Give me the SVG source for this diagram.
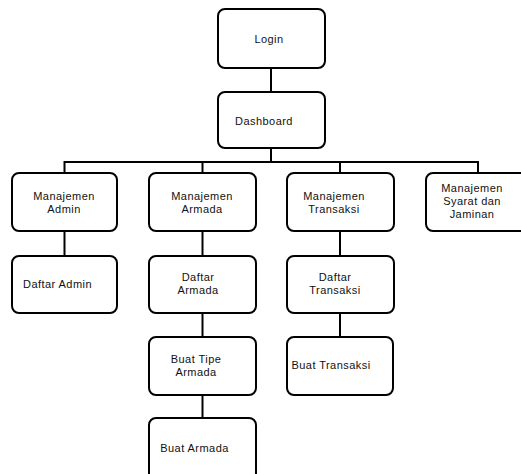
<svg xmlns="http://www.w3.org/2000/svg" width="521" height="474" viewBox="0 0 521 474">
<style>
.box{fill:#fff;stroke:#000;stroke-width:2}
.t{font-family:"Liberation Sans",Arial,sans-serif;font-size:11px;fill:#111;letter-spacing:0.45px}
.c{text-anchor:middle}
.ln{stroke:#000;stroke-width:2;fill:none}
</style>
<rect width="521" height="474" fill="#fff"/>
<g id="connectors">
<line class="ln" x1="271" y1="68" x2="271" y2="92"/>
<line class="ln" x1="271" y1="148" x2="271" y2="162"/>
<polyline class="ln" points="64.5,173 64.5,162 478,162 478,173"/>
<line class="ln" x1="202.5" y1="162" x2="202.5" y2="173"/>
<line class="ln" x1="340" y1="162" x2="340" y2="173"/>
<line class="ln" x1="64.5" y1="231" x2="64.5" y2="256"/>
<line class="ln" x1="202.5" y1="231" x2="202.5" y2="256"/>
<line class="ln" x1="202.5" y1="313" x2="202.5" y2="337"/>
<line class="ln" x1="202.5" y1="395" x2="202.5" y2="418"/>
<line class="ln" x1="340" y1="231" x2="340" y2="256"/>
<line class="ln" x1="340" y1="313" x2="340" y2="337"/>
</g>
<g id="login">
<rect class="box" x="218" y="9" width="107" height="59" rx="7"/>
<text class="t c" x="269" y="43">Login</text>
</g>
<g id="dashboard">
<rect class="box" x="218" y="92" width="107" height="56" rx="7"/>
<text class="t c" x="264" y="125">Dashboard</text>
</g>
<g id="manajemen-admin">
<rect class="box" x="12" y="173" width="105" height="58" rx="7"/>
<text class="t c" x="64" y="200">Manajemen</text>
<text class="t c" x="64" y="213">Admin</text>
</g>
<g id="manajemen-armada">
<rect class="box" x="149" y="173" width="107" height="58" rx="7"/>
<text class="t c" x="202" y="200">Manajemen</text>
<text class="t c" x="202" y="213">Armada</text>
</g>
<g id="manajemen-transaksi">
<rect class="box" x="287" y="173" width="107" height="58" rx="7"/>
<text class="t c" x="334" y="200">Manajemen</text>
<text class="t c" x="334" y="213">Transaksi</text>
</g>
<g id="manajemen-syarat">
<rect class="box" x="426" y="173" width="110" height="58" rx="7"/>
<text class="t c" x="472" y="192">Manajemen</text>
<text class="t c" x="472" y="205">Syarat dan</text>
<text class="t c" x="472" y="218">Jaminan</text>
</g>
<g id="daftar-admin">
<rect class="box" x="12" y="256" width="105" height="57" rx="7"/>
<text class="t c" x="57.5" y="288">Daftar Admin</text>
</g>
<g id="daftar-armada">
<rect class="box" x="149" y="256" width="107" height="57" rx="7"/>
<text class="t c" x="198" y="281">Daftar</text>
<text class="t c" x="198" y="294">Armada</text>
</g>
<g id="daftar-transaksi">
<rect class="box" x="287" y="256" width="107" height="57" rx="7"/>
<text class="t c" x="335" y="281">Daftar</text>
<text class="t c" x="335" y="294">Transaksi</text>
</g>
<g id="buat-tipe-armada">
<rect class="box" x="149" y="337" width="107" height="58" rx="7"/>
<text class="t c" x="196" y="363">Buat Tipe</text>
<text class="t c" x="196" y="376">Armada</text>
</g>
<g id="buat-transaksi">
<rect class="box" x="287" y="337" width="106" height="58" rx="7"/>
<text class="t c" x="331" y="369">Buat Transaksi</text>
</g>
<g id="buat-armada">
<rect class="box" x="149" y="418" width="107" height="62" rx="7"/>
<text class="t c" x="194.5" y="452">Buat Armada</text>
</g>
</svg>
